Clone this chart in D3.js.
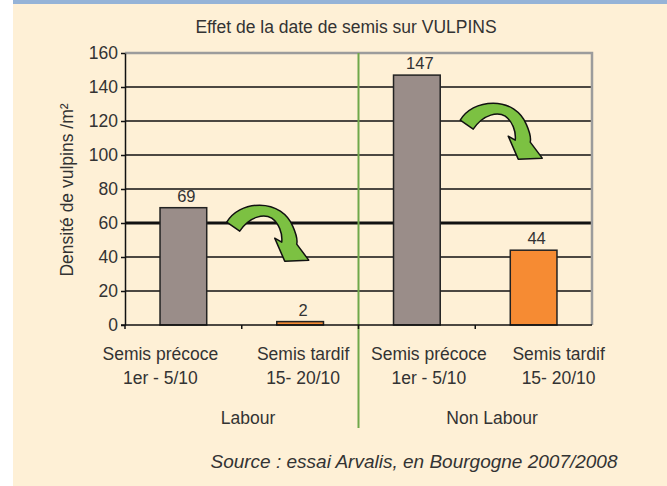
<!DOCTYPE html>
<html>
<head>
<meta charset="utf-8">
<script src="https://cdn.jsdelivr.net/npm/d3@7"></script>
<style>
  body { margin: 0; background: #fff; }
  svg { display: block; }
  text { font-family: "Liberation Sans", Arial, sans-serif; fill: #333; }
</style>
</head>
<body>
<div id="chart"></div>
<script>
// Data
const categories = ["labour-precoce", "labour-tardif", "nonlabour-precoce", "nonlabour-tardif"];
const labelTop = ["Semis précoce", "Semis tardif", "Semis précoce", "Semis tardif"];
const labelBottom = ["1er - 5/10", "15- 20/10", "1er - 5/10", "15- 20/10"];
const sowing = ["precoce", "tardif", "precoce", "tardif"];
const densities = [69, 2, 147, 44];
const groups = ["Labour", "Non Labour"];
const yTicks = [0, 20, 40, 60, 80, 100, 120, 140, 160];

const width = 667, height = 486;
const plot = {left: 125, right: 592, top: 53, bottom: 325};

const svg = d3.select("#chart").append("svg")
    .attr("width", width)
    .attr("height", height);

// panel background + blue band
svg.append("rect").attr("x", 13).attr("y", 0).attr("width", width - 13).attr("height", height)
    .attr("fill", "#fef0d6");
svg.append("rect").attr("x", 13).attr("y", 0).attr("width", width - 13).attr("height", 4)
    .attr("fill", "#95b3d7");

const x = d3.scaleBand()
    .domain(categories)
    .range([plot.left, plot.right])
    .paddingInner(0.6)
    .paddingOuter(0.3);

const y = d3.scaleLinear()
    .domain([0, 160])
    .range([plot.bottom, plot.top]);

const color = d3.scaleOrdinal()
    .domain(["precoce", "tardif"])
    .range(["#9a8d89", "#f68b33"]);

// title
svg.append("text")
    .attr("x", 346).attr("y", 33)
    .attr("text-anchor", "middle")
    .style("font-size", "17.5px")
    .text("Effet de la date de semis sur VULPINS");

// gridlines
svg.append("g").selectAll("line")
    .data(yTicks.filter(d => d > 0 && d < 160))
    .enter().append("line")
    .attr("x1", plot.left).attr("x2", plot.right)
    .attr("y1", d => y(d)).attr("y2", d => y(d))
    .attr("stroke", "#111")
    .attr("stroke-width", d => d === 60 ? 3 : 1.4);

// grey frame top / right
svg.append("path")
    .attr("d", `M${plot.left},${y(160)}H${plot.right}V${plot.bottom}`)
    .attr("fill", "none")
    .attr("stroke", "#9c9c9c")
    .attr("stroke-width", 2.5);

// separator between groups
const step = x.step();
const boundaries = d3.range(categories.length + 1).map(i => plot.left + i * step);
svg.append("line")
    .attr("x1", boundaries[2]).attr("x2", boundaries[2])
    .attr("y1", plot.top).attr("y2", 428)
    .attr("stroke", "#6fa84a")
    .attr("stroke-width", 2);

// bars
svg.append("g").selectAll("rect")
    .data(densities)
    .enter().append("rect")
    .attr("x", (d, i) => x(categories[i]))
    .attr("y", d => y(d))
    .attr("width", x.bandwidth())
    .attr("height", d => y(0) - y(d))
    .attr("fill", (d, i) => color(sowing[i]))
    .attr("stroke", "#222")
    .attr("stroke-width", 1.5);

// value labels
svg.append("g").selectAll("text")
    .data(densities)
    .enter().append("text")
    .attr("x", (d, i) => x(categories[i]) + x.bandwidth() / 2 + 3)
    .attr("y", d => y(d) - 6)
    .attr("text-anchor", "middle")
    .style("font-size", "16.5px")
    .text(d => d);

// y axis
const yAxis = svg.append("g")
    .attr("transform", `translate(${plot.left},0)`)
    .call(d3.axisLeft(y).tickValues(yTicks).tickSize(4).tickPadding(3).tickSizeOuter(0));
yAxis.select(".domain").attr("stroke", "#111").attr("stroke-width", 1.5);
yAxis.selectAll(".tick line").attr("stroke", "#111").attr("stroke-width", 1.5);
yAxis.selectAll(".tick text")
    .attr("fill", "#333")
    .style("font-family", "Liberation Sans, Arial, sans-serif")
    .style("font-size", "17.5px");

// x axis baseline with separator ticks
svg.append("line")
    .attr("x1", plot.left - 4).attr("x2", plot.right)
    .attr("y1", plot.bottom).attr("y2", plot.bottom)
    .attr("stroke", "#111").attr("stroke-width", 1.5);
svg.append("g").selectAll("line")
    .data(boundaries.slice(0, 4))
    .enter().append("line")
    .attr("x1", d => d).attr("x2", d => d)
    .attr("y1", plot.bottom).attr("y2", plot.bottom + 4)
    .attr("stroke", "#111").attr("stroke-width", 1.5);

// y axis title
svg.append("text")
    .attr("transform", "rotate(-90)")
    .attr("x", -190).attr("y", 73)
    .attr("text-anchor", "middle")
    .style("font-size", "17.5px")
    .text("Densité de vulpins /m²");

// category labels (shifted as in the reference)
const labelShift = [-23, 3, 12, 25];
const catLabels = svg.append("g").selectAll("text")
    .data(categories)
    .enter().append("text")
    .attr("text-anchor", "middle")
    .style("font-size", "17.5px");
catLabels.append("tspan")
    .attr("x", (d, i) => x(d) + x.bandwidth() / 2 + labelShift[i])
    .attr("y", 360)
    .text((d, i) => labelTop[i]);
catLabels.append("tspan")
    .attr("x", (d, i) => x(d) + x.bandwidth() / 2 + labelShift[i])
    .attr("y", 384)
    .text((d, i) => labelBottom[i]);

// group labels
const groupX = [248, 492];
svg.append("g").selectAll("text")
    .data(groups)
    .enter().append("text")
    .attr("x", (d, i) => groupX[i])
    .attr("y", 424)
    .attr("text-anchor", "middle")
    .style("font-size", "17.5px")
    .text(d => d);

// curved green arrows between early and late sowing
const arrows = [{from: 0, top: 70.5}, {from: 2, top: 130.5}];
const arrowPath = "M0,17 C6,7 18,0 33,0 C49,0 61,9 66,21 C70,30 71,35 70,39 L82,55 L58,56 L48,33 L55,37 " +
    "C56,28 52,18 45,13 C38,9 24,10 13,26 Z";
svg.append("g").selectAll("path")
    .data(arrows)
    .enter().append("path")
    .attr("transform", d => `translate(${x(categories[d.from]) + x.bandwidth() + 20},${y(d.top)})`)
    .attr("d", arrowPath)
    .attr("fill", "#7cc142")
    .attr("stroke", "#111")
    .attr("stroke-width", 1.5)
    .attr("stroke-linejoin", "round");

// source
svg.append("text")
    .attr("x", 414).attr("y", 468)
    .attr("text-anchor", "middle")
    .style("font-size", "19px")
    .style("font-style", "italic")
    .text("Source : essai Arvalis, en Bourgogne 2007/2008");
</script>
</body>
</html>
